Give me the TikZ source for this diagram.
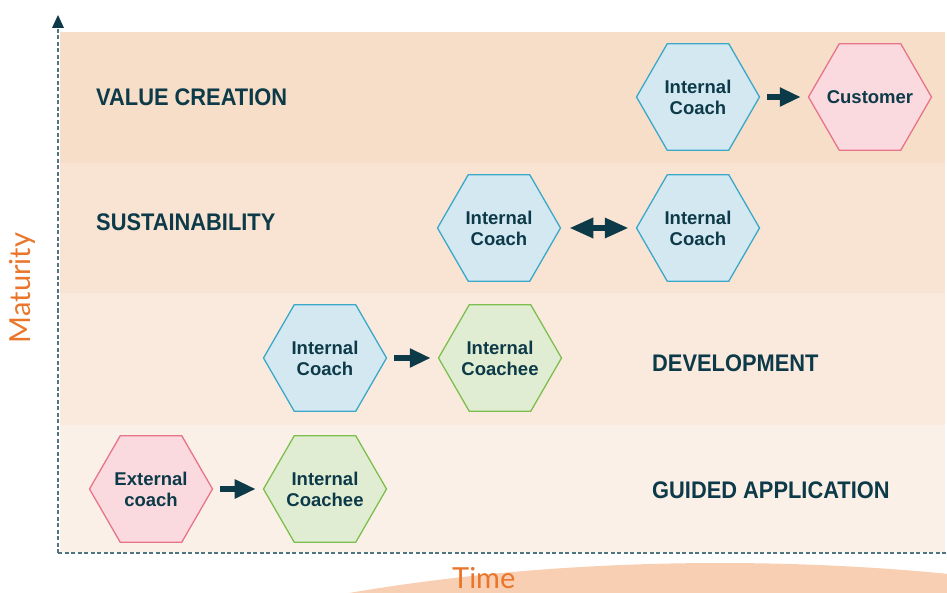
\documentclass[tikz,border=0pt]{standalone}
\usepackage{fontspec}
\setmainfont{Liberation Sans}
\newfontfamily\lblfont[FakeStretch=0.91]{Liberation Sans}
\newfontfamily\axisfont{Lato}
\usetikzlibrary{shapes.geometric,arrows.meta}

\definecolor{ink}{RGB}{13,58,72}
\definecolor{axisgray}{RGB}{78,117,128}
\definecolor{bandA}{RGB}{247,222,200}
\definecolor{bandB}{RGB}{249,228,212}
\definecolor{bandC}{RGB}{250,234,222}
\definecolor{bandD}{RGB}{251,240,232}
\definecolor{blueFill}{RGB}{212,232,242}
\definecolor{blueLine}{RGB}{59,168,200}
\definecolor{pinkFill}{RGB}{250,218,223}
\definecolor{pinkLine}{RGB}{232,116,138}
\definecolor{greenFill}{RGB}{224,237,210}
\definecolor{greenLine}{RGB}{125,191,78}
\definecolor{orangeText}{RGB}{233,118,43}
\definecolor{arcFill}{RGB}{248,207,179}

\tikzset{
  hexa/.style={regular polygon, regular polygon sides=6, minimum size=123pt,
    inner sep=0pt, line width=1.3pt},
  hexlabel/.style={align=center, text=ink, inner sep=0pt,
    font=\fontsize{18.5}{21}\selectfont\bfseries},
  bluehex/.style={hexa, fill=blueFill, draw=blueLine},
  pinkhex/.style={hexa, fill=pinkFill, draw=pinkLine},
  greenhex/.style={hexa, fill=greenFill, draw=greenLine},
  level/.style={anchor=west, inner sep=0pt, text=ink,
    font=\lblfont\bfseries\fontsize{24}{28}\selectfont},
  flow/.style={draw=ink, line width=6pt, shorten <=7pt, shorten >=7pt,
    -{Triangle[length=21pt,width=18pt]}},
  twoway/.style={draw=ink, line width=6pt, shorten <=8pt, shorten >=7pt,
    {Triangle[length=24pt,width=19pt]}-{Triangle[length=24pt,width=19pt]}},
  axisline/.style={draw=axisgray, line width=2.5pt, dash pattern=on 4pt off 2.5pt},
  axislabel/.style={text=orangeText, inner sep=0pt,
    font=\axisfont\fontsize{29}{33}\selectfont}
}

\begin{document}
\begin{tikzpicture}[x=1pt,y=-1pt]
\useasboundingbox (0,0) rectangle (947,593);

% maturity bands
\fill[bandA] (60,32) rectangle (945,163);
\fill[bandB] (60,163) rectangle (945,293);
\fill[bandC] (60,293) rectangle (945,425);
\fill[bandD] (60,425) rectangle (945,552);

% soft arc under the time axis
\begin{scope}
  \clip (0,0) rectangle (947,593);
  \fill[arcFill] (720,863) ellipse [x radius=850pt, y radius=300pt];
\end{scope}

% axes
\draw[axisline] (58,553) -- (947,553);
\draw[axisline] (58,553) -- (58,28);
\fill[ink] (58,15) -- (64,28) -- (52,28) -- cycle;

\node[axislabel, rotate=90] (maturity) at (22,288) {Maturity};
\node[axislabel, anchor=base west] (time) at (452,588) {Time};

% level labels
\node[level] (vc) at (96,97) {VALUE CREATION};
\node[level] (sus) at (96,222) {SUSTAINABILITY};
\node[level] (dev) at (652,363) {DEVELOPMENT};
\node[level] (guided) at (652,490) {GUIDED APPLICATION};

% value creation
\node[bluehex, label={[hexlabel]center:{Internal\\Coach}}] (vcCoach) at (698,97) {};
\node[pinkhex, label={[hexlabel]center:{Customer}}] (customer) at (870,97) {};
\draw[flow] (vcCoach) -- (customer);

% sustainability
\node[bluehex, label={[hexlabel]center:{Internal\\Coach}}] (susA) at (499,228) {};
\node[bluehex, label={[hexlabel]center:{Internal\\Coach}}] (susB) at (698,228) {};
\draw[twoway] (susA) -- (susB);

% development
\node[bluehex, label={[hexlabel]center:{Internal\\Coach}}] (devCoach) at (325,358) {};
\node[greenhex, label={[hexlabel]center:{Internal\\Coachee}}] (devCoachee) at (500,358) {};
\draw[flow] (devCoach) -- (devCoachee);

% guided application
\node[pinkhex, label={[hexlabel]center:{External\\coach}}] (external) at (151,489) {};
\node[greenhex, label={[hexlabel]center:{Internal\\Coachee}}] (guidedCoachee) at (325,489) {};
\draw[flow] (external) -- (guidedCoachee);
\end{tikzpicture}
\end{document}
